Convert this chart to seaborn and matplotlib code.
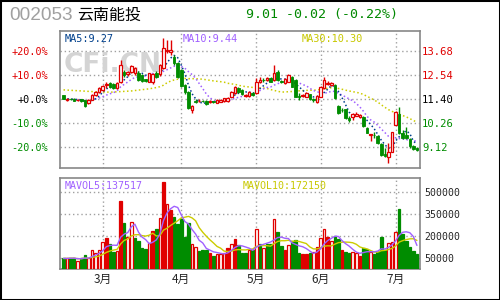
import numpy as np
import pandas as pd
import matplotlib
matplotlib.use("Agg")
import matplotlib.pyplot as plt
import seaborn as sns
from matplotlib.patches import Rectangle

sns.set_style("white")
plt.rcParams['font.family'] = ['DejaVu Sans', 'Noto Sans CJK SC']

# ---------------- data ----------------
opens = [11.57, 11.36, 11.42, 11.42, 11.33, 11.38, 11.34, 11.20, 11.35, 11.59,
         11.72, 11.83, 12.06, 12.14, 12.12, 11.90, 12.19, 12.69, 12.56, 12.69,
         12.61, 12.64, 12.53, 12.33, 12.22, 12.19, 12.61, 12.56, 12.85, 13.68,
         13.64, 13.40, 13.11, 12.77, 12.06, 11.75, 10.88, 11.32, 11.30, 11.32,
         11.32, 11.27, 11.29, 11.23, 11.28, 11.32, 11.32, 11.51, 11.70, 11.90,
         11.83, 11.56, 11.55, 11.70, 11.67, 12.22, 12.32, 12.30, 12.40, 12.30,
         12.69, 12.25, 12.14, 12.22, 12.45, 12.30, 11.53, 11.55, 11.51, 11.62,
         11.40, 11.27, 11.51, 11.90, 12.10, 12.06, 12.06, 11.07, 10.90, 10.91,
         10.49, 10.53, 10.62, 10.57, 10.57, 10.05, 9.70, 9.72, 9.65, 9.28,
         8.78, 8.68, 8.92, 10.18, 10.69, 9.78, 9.70, 9.50, 9.18, 9.08]
closes = [11.40, 11.40, 11.38, 11.32, 11.37, 11.32, 11.07, 11.35, 11.59, 11.75,
          11.93, 12.03, 12.10, 11.95, 11.90, 12.14, 13.00, 12.53, 12.69, 12.97,
          12.85, 12.30, 12.27, 12.27, 12.61, 12.56, 12.45, 13.00, 13.79, 13.72,
          13.70, 13.08, 12.45, 12.02, 11.75, 10.96, 11.07, 11.27, 11.32, 11.30,
          11.17, 11.29, 11.27, 11.35, 11.35, 11.43, 11.46, 11.75, 11.95, 11.75,
          11.62, 11.59, 11.75, 11.59, 12.22, 12.28, 12.28, 12.38, 12.22, 12.61,
          12.30, 12.22, 12.33, 12.53, 11.98, 11.51, 11.49, 11.59, 11.70, 11.38,
          11.33, 11.54, 11.98, 12.30, 12.16, 12.17, 11.43, 10.72, 10.86, 10.49,
          10.40, 10.68, 10.70, 10.65, 10.13, 9.81, 9.74, 9.68, 9.31, 8.76,
          8.73, 8.92, 9.83, 10.80, 9.78, 9.54, 9.54, 9.18, 9.03, 9.01]
highs = [11.60, 11.45, 11.45, 11.44, 11.40, 11.42, 11.36, 11.38, 11.62, 11.80,
         11.98, 12.05, 12.22, 12.18, 12.16, 12.18, 13.24, 12.75, 12.72, 13.02,
         12.90, 12.70, 12.58, 12.36, 12.65, 12.62, 12.70, 13.05, 14.26, 14.19,
         14.19, 13.50, 13.15, 12.80, 12.10, 11.78, 11.10, 11.38, 11.38, 11.36,
         11.35, 11.33, 11.32, 11.38, 11.38, 11.46, 11.50, 11.80, 12.02, 11.95,
         11.87, 11.65, 11.78, 11.73, 12.40, 12.45, 12.40, 12.45, 12.45, 13.01,
         12.75, 12.30, 12.38, 12.58, 12.50, 12.33, 11.67, 11.65, 11.75, 11.65,
         11.45, 11.58, 12.02, 12.45, 12.25, 12.20, 12.10, 11.10, 10.98, 10.95,
         10.60, 10.75, 10.78, 10.70, 10.60, 10.08, 9.76, 9.86, 9.70, 9.30,
         9.07, 9.31, 9.86, 10.85, 11.04, 9.95, 10.09, 9.55, 9.25, 9.12]
lows = [11.38, 11.30, 11.33, 11.30, 11.30, 11.28, 11.03, 11.15, 11.33, 11.55,
        11.70, 11.78, 11.90, 11.92, 11.88, 11.88, 12.15, 12.45, 12.50, 12.65,
        12.55, 12.25, 12.20, 12.22, 12.18, 12.10, 12.40, 12.50, 12.80, 13.55,
        13.48, 13.00, 12.40, 11.95, 11.65, 10.92, 10.72, 11.20, 11.25, 11.25,
        11.12, 11.22, 11.22, 11.20, 11.25, 11.28, 11.25, 11.48, 11.65, 11.70,
        11.58, 11.48, 11.50, 11.55, 11.62, 12.14, 12.18, 12.25, 12.18, 12.25,
        12.25, 12.15, 12.10, 12.18, 11.95, 11.48, 11.35, 11.50, 11.48, 11.35,
        11.28, 11.22, 11.48, 11.85, 12.05, 12.00, 11.40, 10.68, 10.80, 10.45,
        10.30, 10.40, 10.58, 10.52, 10.08, 9.78, 9.42, 9.55, 9.28, 8.72,
        8.68, 8.40, 8.88, 10.15, 9.75, 9.50, 9.50, 9.10, 8.98, 8.95]
volumes = [49000, 49000, 53000, 53000, 31600, 49000, 72000, 49000, 106600, 84000,
           106600, 163000, 186000, 147000, 95000, 100000, 440000, 293000, 197500, 295000,
           188000, 170000, 122000, 113000, 156000, 236000, 250000, 322000, 570000, 420000,
           379000, 332000, 281000, 315000, 197500, 293000, 147000, 125000, 102000, 106600,
           106600, 88500, 65700, 79000, 79000, 88500, 122000, 147000, 181000, 140000,
           84000, 84000, 106600, 106600, 247000, 147000, 118000, 147000, 147000, 316000,
           229000, 134000, 106600, 138400, 170200, 174800, 83900, 77000, 77000, 83900,
           95300, 129300, 186000, 247000, 197500, 168000, 202000, 181000, 106600, 93000,
           84000, 95000, 84000, 64000, 118000, 113000, 95000, 79000, 90000, 195000,
           106600, 152000, 159000, 229000, 383000, 214000, 168000, 129000, 98000, 80000]
# volume bar style: g = green filled, h = red hollow, f = red filled
vol_style = list("ghgghgghhh" "hhfgghfghh" "gggghfghfh" "fggggghhgg"
                 "gfghhhfhfg" "gghghghggh" "ggfhgggffg" "hfhhfhggfg"
                 "ghhfgghggg" "ghhhgggggg")
# MA30 for the first 29 sessions (needs earlier history)
ma30_head = [11.83, 11.82, 11.81, 11.80, 11.79, 11.78, 11.77, 11.76, 11.75, 11.74,
             11.73, 11.73, 11.73, 11.72, 11.73, 11.74, 11.75, 11.76, 11.77, 11.78,
             11.80, 11.82, 11.84, 11.86, 11.88, 11.91, 11.94, 11.98, 12.05]
month_start = [11, 33, 54, 72, 93]
month_labels = ["3月", "4月", "5月", "6月", "7月"]
price_ticks = [13.68, 12.54, 11.40, 10.26, 9.12]
pct_labels = ["+20.0%", "+10.0%", "+0.0%", "-10.0%", "-20.0%"]
price_labels = ["13.68", "12.54", "11.40", "10.26", "9.12"]
vol_ticks = [500000, 350000, 200000, 50000]
vol_labels = ["500000", "350000", "200000", "50000"]

# ---------------- derived ----------------
df = pd.DataFrame(dict(o=opens, c=closes, h=highs, l=lows, v=volumes, s=vol_style))
df["i"] = np.arange(len(df))
df["ma5"] = df.c.rolling(5, min_periods=1).mean()
df["ma10"] = df.c.rolling(10, min_periods=1).mean()
ma30 = df.c.rolling(30).mean()
ma30.iloc[:len(ma30_head)] = ma30_head
df["ma30"] = ma30
df["mv5"] = df.v.rolling(5, min_periods=1).mean()
df["mv10"] = df.v.rolling(10, min_periods=1).mean()

RED = "#e00000"
GREEN = "#008c00"
BLACK = "#000000"
GRID = "#a0a0a0"
FRAME = "#888888"
MONO = "DejaVu Sans Mono"

W, H = 500, 300
fig = plt.figure(figsize=(5, 3), dpi=100)
fig.patch.set_facecolor("white")


def box(l, t, r, b):
    return [l / W, 1 - b / H, (r - l) / W, (b - t) / H]


def ftxt(x, y, s, **kw):
    fig.text(x / W, 1 - y / H, s, va="center", **kw)


axp = fig.add_axes(box(60, 31, 420, 168))
axv = fig.add_axes(box(60, 178, 420, 269))
xlim = (-0.98, 99.86)
p_lim = (8.142, 14.61)
v_lim = (-23000, 597500)

# ---------- price panel ----------
up = df.c >= df.o
axp.vlines(df.i, df.l, df.h, colors=np.where(up, RED, GREEN), lw=1.0, zorder=3)
body = (df.c - df.o).where((df.c - df.o).abs() > 0.005, 0.01)
axp.bar(df.i[up], body[up], bottom=df.o[up], width=0.72, facecolor="white",
        edgecolor=RED, lw=0.9, zorder=4)
axp.bar(df.i[~up], body[~up], bottom=df.o[~up], width=0.72, facecolor=GREEN,
        edgecolor=GREEN, lw=0.6, zorder=4)

dot = (0, (1, 1.6))
sns.lineplot(data=df, x="i", y="ma30", ax=axp, color="#cccc00", lw=1.1, linestyle=dot, zorder=2)
sns.lineplot(data=df, x="i", y="ma10", ax=axp, color="#a060ff", lw=1.1, linestyle=dot, zorder=2)
sns.lineplot(data=df, x="i", y="ma5", ax=axp, color="#00408c", lw=1.1, linestyle=dot, zorder=2)

axp.set_xlim(*xlim)
axp.set_ylim(*p_lim)
axp.set_yticks(price_ticks)
axp.set_yticklabels(pct_labels, family=MONO, fontsize=7.3)
for t, c in zip(axp.get_yticklabels(), [RED, RED, BLACK, GREEN, GREEN]):
    t.set_color(c)
axp.set_xticks(month_start)
axp.set_xticklabels([])
axp.tick_params(length=0, pad=8.6)
axp.grid(True, color=GRID, lw=1.0, ls=(0, (1, 2)))
axp.set_xlabel("")
axp.set_ylabel("")
for s in axp.spines.values():
    s.set_color(FRAME)
    s.set_linewidth(1.2)

axr = axp.twinx()
axr.set_ylim(*p_lim)
axr.set_yticks(price_ticks)
axr.set_yticklabels(price_labels, family=MONO, fontsize=7.6)
for t, c in zip(axr.get_yticklabels(), [RED, RED, BLACK, GREEN, GREEN]):
    t.set_color(c)
axr.tick_params(length=0, pad=1.5)
for s in axr.spines.values():
    s.set_visible(False)

# watermark
axp.text(113 / W, 1 - 65 / H, "CFi.CN", transform=fig.transFigure, ha="center", va="center",
         fontsize=19, fontweight="bold", color="#d4d4d4", zorder=1)

# ---------- volume panel ----------
for style, fc, ec in [("g", GREEN, GREEN), ("h", "white", RED), ("f", RED, RED)]:
    sub = df[df.s == style]
    axv.bar(sub.i, sub.v - v_lim[0], bottom=v_lim[0], width=0.72, facecolor=fc,
            edgecolor=ec, lw=0.9, zorder=3)
sns.lineplot(data=df, x="i", y="mv10", ax=axv, color="#cccc00", lw=1.0, zorder=4)
sns.lineplot(data=df, x="i", y="mv5", ax=axv, color="#a060ff", lw=1.0, zorder=4)
axv.set_xlim(*xlim)
axv.set_ylim(*v_lim)
axv.yaxis.tick_right()
axv.set_yticks(vol_ticks)
axv.set_yticklabels(vol_labels, family=MONO, fontsize=7.1)
axv.set_xticks(month_start)
axv.set_xticklabels(month_labels, family=["Noto Sans CJK SC"], fontsize=8.5)
axv.tick_params(length=0, pad=2.5)
axv.tick_params(axis="y", pad=3)
axv.grid(True, color=GRID, lw=1.0, ls=(0, (1, 2)))
axv.set_xlabel("")
axv.set_ylabel("")
for s in axv.spines.values():
    s.set_color(FRAME)
    s.set_linewidth(1.2)

# ---------- header and labels ----------
ftxt(9, 16, "002053", color="#a0a0a0", fontsize=13.7, family=["Liberation Sans"])
ftxt(77, 15, "云南能投", color="black", fontsize=11.5, family=["Noto Sans CJK SC"])
ftxt(246, 14.5, "9.01 -0.02 (-0.22%)", color="#008800", fontsize=9.5, family=MONO)
ftxt(65, 39, "MA5:9.27", color="#00408c", fontsize=7.4, family=MONO)
ftxt(183, 39, "MA10:9.44", color="#a060ff", fontsize=7.4, family=MONO)
ftxt(302, 39, "MA30:10.30", color="#c8c800", fontsize=7.4, family=MONO)
ftxt(65, 186, "MAVOL5:137517", color="#a060ff", fontsize=7.2, family=MONO)
ftxt(243, 186, "MAVOL10:172150", color="#c8c800", fontsize=7.2, family=MONO)

fig.patches.append(Rectangle((0, 0), 1, 1, transform=fig.transFigure, fill=False,
                             edgecolor="black", lw=2.2, zorder=10))

fig.savefig("out.png", dpi=100, facecolor="white")
